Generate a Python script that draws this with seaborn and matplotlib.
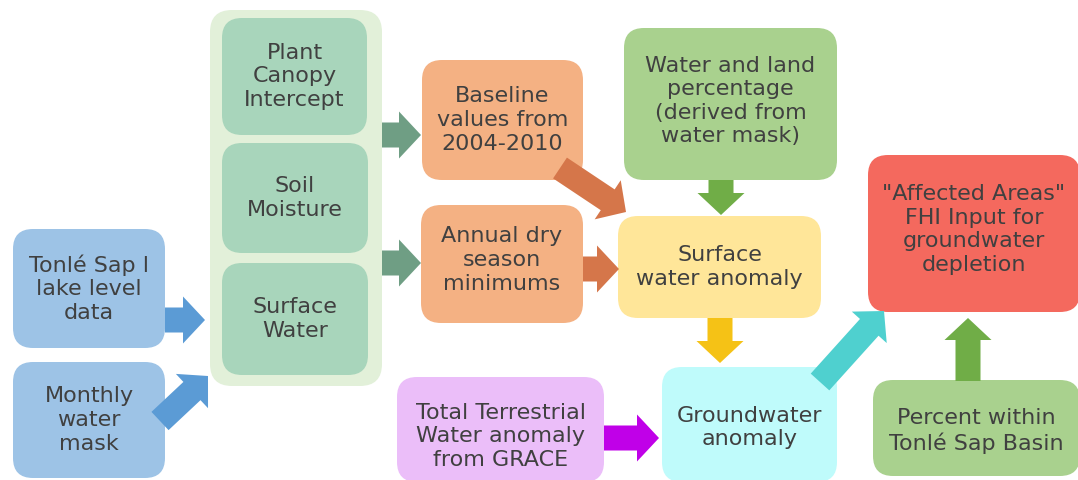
import matplotlib
matplotlib.use("Agg")
import matplotlib.pyplot as plt
import seaborn as sns
from matplotlib.patches import FancyBboxPatch, FancyArrow

sns.set_theme(style="white")
plt.rcParams['font.family'] = ['DejaVu Sans']

# box texts and fill colours
labels = [
    "Tonlé Sap l\nlake level\ndata",
    "Monthly\nwater\nmask",
    "Plant\nCanopy\nIntercept",
    "Soil\nMoisture",
    "Surface\nWater",
    "Baseline\nvalues from\n2004-2010",
    "Annual dry\nseason\nminimums",
    "Water and land\npercentage\n(derived from\nwater mask)",
    "Surface\nwater anomaly",
    "Total Terrestrial\nWater anomaly\nfrom GRACE",
    "Groundwater\nanomaly",
    "\"Affected Areas\"\nFHI Input for\ngroundwater\ndepletion",
    "Percent within\nTonlé Sap Basin",
]
box_colors = ["#9DC3E6", "#9DC3E6", "#A8D5BB", "#A8D5BB", "#A8D5BB",
              "#F4B183", "#F4B183", "#A9D18E", "#FFE699", "#EBBEF9",
              "#BFFBFB", "#F4695E", "#A9D18E"]

# layout: left, top, right, bottom in pixels, plus text centre offset
box_extent = [
    (13, 229, 165, 348), (13, 362, 165, 478),
    (222, 18, 367, 135), (222, 143, 368, 253), (222, 263, 368, 375),
    (422, 60, 583, 180), (421, 205, 583, 323),
    (624, 28, 837, 180), (618, 216, 821, 318),
    (397, 377, 604, 482), (662, 367, 837, 482),
    (868, 155, 1080, 312), (873, 380, 1080, 476),
]
text_dy = [0, 0, 0, 0, 0, 0, -4, -3, 0, 7, 3, -4, 3]

# arrows: start, end, colour
arrows = [
    ((165, 320), (205, 320), "#5B9BD5"),
    ((160, 421), (208, 376), "#5B9BD5"),
    ((382, 135), (421, 135), "#6F9E84"),
    ((382, 263), (421, 263), "#6F9E84"),
    ((560, 168), (626, 212), "#D5764A"),
    ((583, 269), (619, 269), "#D5764A"),
    ((721, 180), (721, 215), "#70AD47"),
    ((720, 318), (720, 363), "#F5C216"),
    ((604, 438), (659, 438), "#C000E8"),
    ((820, 382), (884, 311), "#4FD0CF"),
    ((968, 381), (968, 318), "#70AD47"),
]

fig = plt.figure(figsize=(10.78, 4.8), dpi=100)
ax = fig.add_axes([0, 0, 1, 1])
ax.set_xlim(0, 1078)
ax.set_ylim(480, 0)
ax.axis("off")

# container behind the three green boxes
ax.add_patch(FancyBboxPatch((210, 10), 172, 376,
                            boxstyle="round,pad=0,rounding_size=22",
                            fc="#E2F0D9", ec="none", zorder=1))

for (x0, y0, x1, y1), dy, txt, col in zip(box_extent, text_dy, labels, box_colors):
    ax.add_patch(FancyBboxPatch((x0, y0), x1 - x0, y1 - y0,
                                boxstyle="round,pad=0,rounding_size=20",
                                fc=col, ec="none", zorder=2))
    ax.text((x0 + x1) / 2, (y0 + y1) / 2 + dy, txt, ha="center", va="center",
            fontsize=16, color="#404040", linespacing=1.22, zorder=4)

for (xs, ys), (xe, ye), col in arrows:
    ax.add_patch(FancyArrow(xs, ys, xe - xs, ye - ys, width=25,
                            head_width=47, head_length=22,
                            length_includes_head=True, fc=col, ec="none",
                            zorder=3))

fig.savefig("out.png", dpi=100)
